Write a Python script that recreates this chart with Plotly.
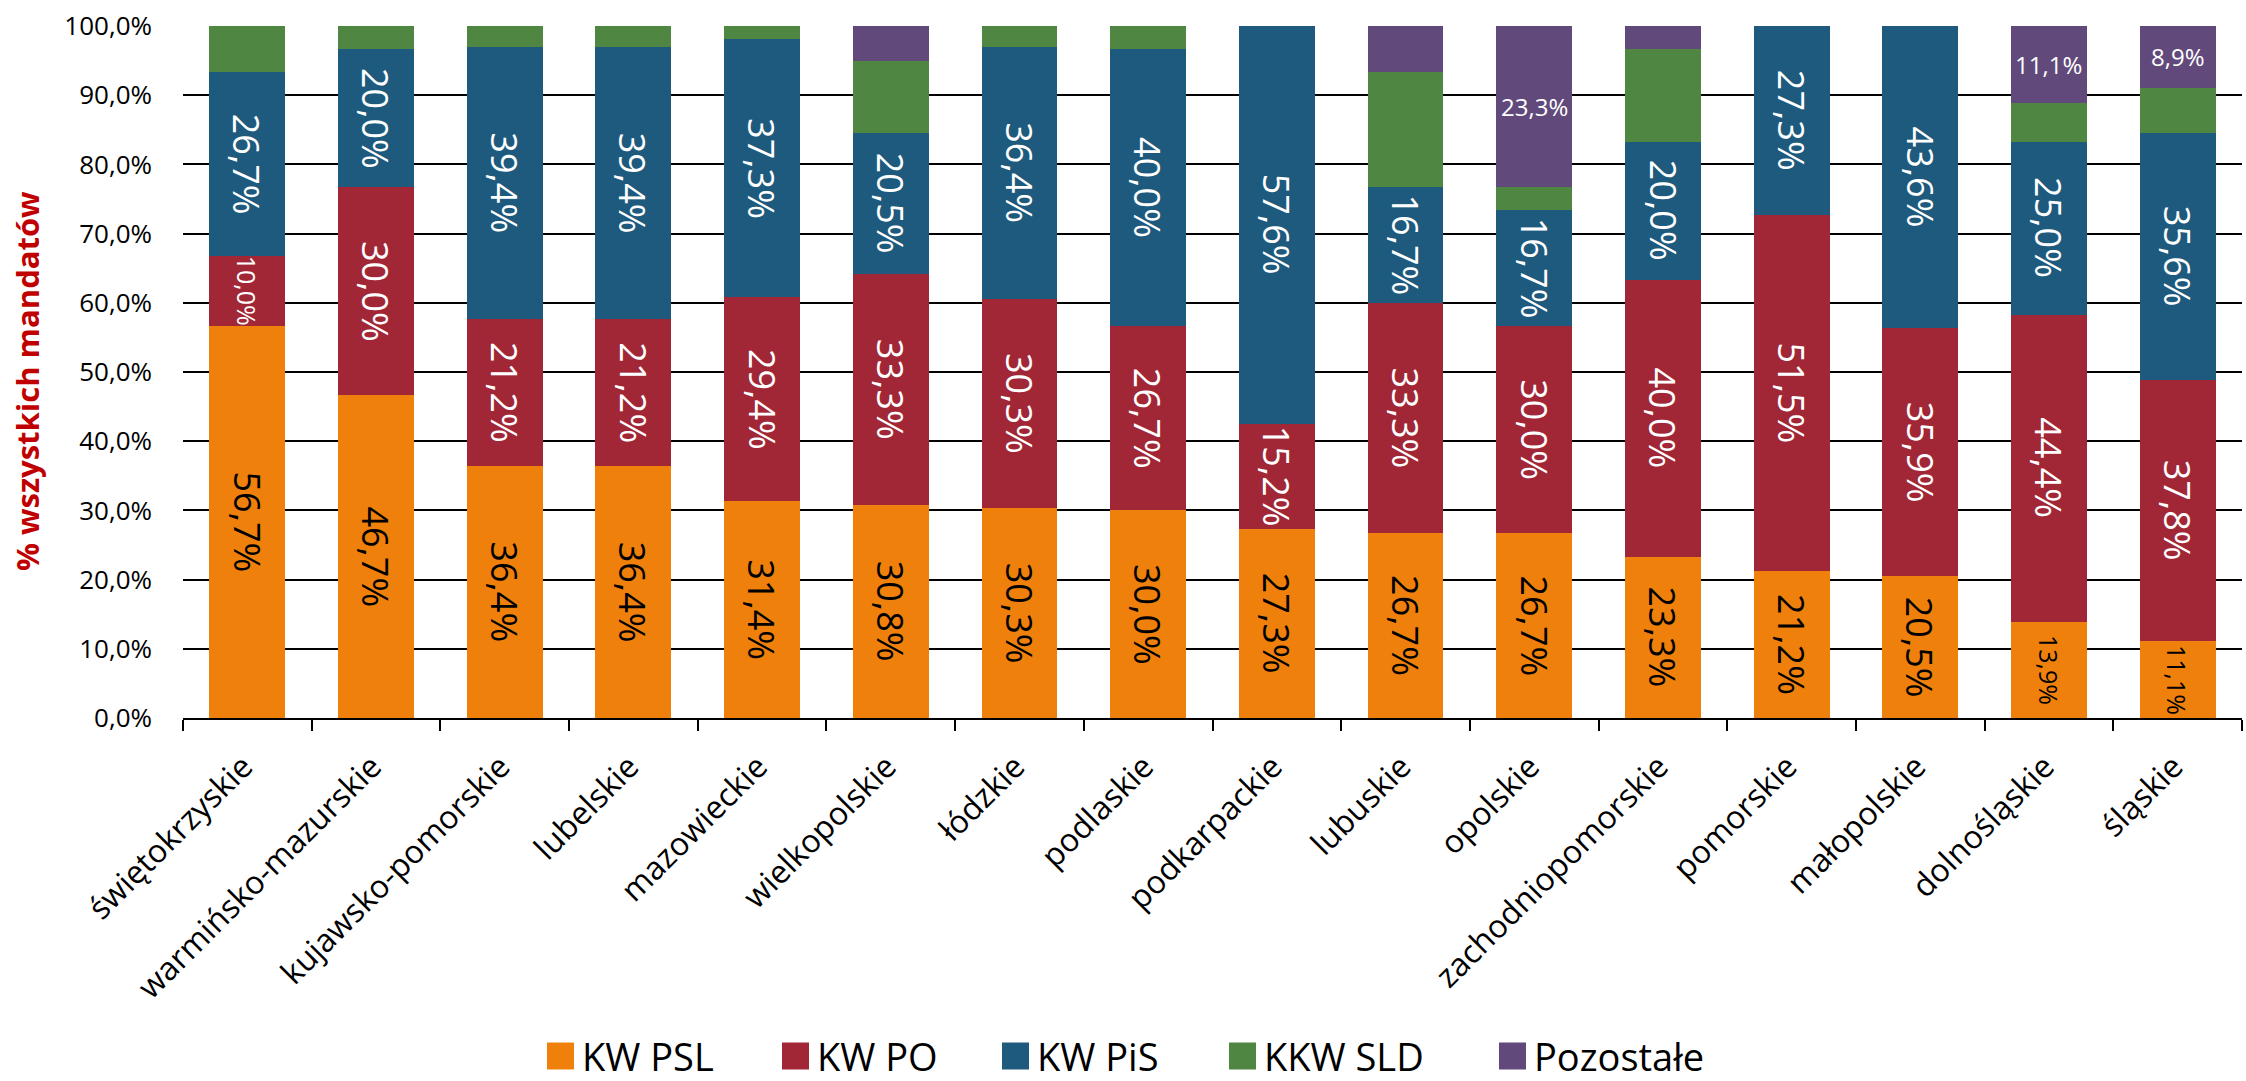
import plotly.graph_objects as go

# ---------------- data ----------------
regions = ["świętokrzyskie", "warmińsko-mazurskie", "kujawsko-pomorskie", "lubelskie",
           "mazowieckie", "wielkopolskie", "łódzkie", "podlaskie", "podkarpackie",
           "lubuskie", "opolskie", "zachodniopomorskie", "pomorskie", "małopolskie",
           "dolnośląskie", "śląskie"]
series_names = ["KW PSL", "KW PO", "KW PiS", "KKW SLD", "Pozostałe"]
kw_psl = [56.7, 46.7, 36.4, 36.4, 31.4, 30.8, 30.3, 30.0, 27.3, 26.7, 26.7, 23.3, 21.2, 20.5, 13.9, 11.1]
kw_po = [10.0, 30.0, 21.2, 21.2, 29.4, 33.3, 30.3, 26.7, 15.2, 33.3, 30.0, 40.0, 51.5, 35.9, 44.4, 37.8]
kw_pis = [26.7, 20.0, 39.4, 39.4, 37.3, 20.5, 36.4, 40.0, 57.6, 16.7, 16.7, 20.0, 27.3, 43.6, 25.0, 35.6]
kkw_sld = [6.6, 3.3, 3.0, 3.0, 1.9, 10.3, 3.0, 3.3, 0.0, 16.7, 3.3, 13.4, 0.0, 0.0, 5.6, 6.6]
pozostale = [0.0, 0.0, 0.0, 0.0, 0.0, 5.1, 0.0, 0.0, 0.0, 6.6, 23.3, 3.3, 0.0, 0.0, 11.1, 8.9]
y_tick_values = [0, 10, 20, 30, 40, 50, 60, 70, 80, 90, 100]
y_tick_labels = ["0,0%", "10,0%", "20,0%", "30,0%", "40,0%", "50,0%",
                 "60,0%", "70,0%", "80,0%", "90,0%", "100,0%"]
y_title = "% wszystkich mandatów"

# which segments carry labels and in which style
labelled_series = ["KW PSL", "KW PO", "KW PiS"]
small_vertical = {("świętokrzyskie", "KW PO"), ("dolnośląskie", "KW PSL"), ("śląskie", "KW PSL")}
horizontal_labels = {("opolskie", "Pozostałe"), ("dolnośląskie", "Pozostałe"), ("śląskie", "Pozostałe")}

# ---------------- style ----------------
colors = ["#EF800C", "#A12737", "#1E5A7D", "#4F8742", "#614A7B"]
label_colors = ["black", "white", "white", "white", "white"]
FONT = "Open Sans"

W, H = 2246, 1081
L, R, T, B = 183, 4, 26, 363
plot_w = W - L - R
plot_h = H - T - B

values = [kw_psl, kw_po, kw_pis, kkw_sld, pozostale]

fig = go.Figure()
for name, vals, col in zip(series_names, values, colors):
    fig.add_trace(go.Bar(name=name, x=regions, y=vals, marker=dict(color=col, line=dict(width=0)),
                         showlegend=False))

annotations = []
cum = [0.0] * len(regions)
for si, (name, vals) in enumerate(zip(series_names, values)):
    for ri, reg in enumerate(regions):
        v = vals[ri]
        mid = cum[ri] + v / 2.0
        txt = f"{v:.1f}".replace(".", ",") + "%"
        key = (reg, name)
        if key in horizontal_labels:
            annotations.append(dict(x=reg, y=mid, xref="x", yref="y", text=txt, showarrow=False,
                                    font=dict(family=FONT, size=24, color=label_colors[si])))
        elif name in labelled_series and v > 0:
            size = 25 if key in small_vertical else 36
            annotations.append(dict(x=reg, y=mid, xref="x", yref="y", text=txt, showarrow=False,
                                    textangle=90,
                                    font=dict(family=FONT, size=size, color=label_colors[si])))
        cum[ri] += v

# y axis title
annotations.append(dict(x=(27 - L) / plot_w, y=(H - B - 381) / plot_h, xref="paper", yref="paper",
                        text="<b>" + y_title + "</b>", xanchor="center", yanchor="middle",
                        showarrow=False, textangle=-90,
                        font=dict(family=FONT, size=31, color="#C00000")))

# custom legend (squares + text) below the chart
legend_px = [547, 782, 1002, 1229, 1499]
legend_y_px = 1056
shapes = []
sq = 27
for name, col, xp in zip(series_names, colors, legend_px):
    x0 = (xp - L) / plot_w
    x1 = (xp + sq - L) / plot_w
    yc = (H - B - legend_y_px) / plot_h
    y0 = yc - (sq / 2) / plot_h
    y1 = yc + (sq / 2) / plot_h
    shapes.append(dict(type="rect", xref="paper", yref="paper", x0=x0, x1=x1, y0=y0, y1=y1,
                       fillcolor=col, line=dict(width=0)))
    annotations.append(dict(x=(xp + sq + 7 - L) / plot_w, y=yc, xref="paper", yref="paper",
                            text=name, showarrow=False, xanchor="left", yanchor="middle",
                            borderpad=0,
                            font=dict(family=FONT, size=38, color="black")))

fig.update_layout(
    width=W, height=H,
    margin=dict(l=L, r=R, t=T, b=B, autoexpand=False),
    barmode="stack",
    bargap=0.41,
    plot_bgcolor="white",
    paper_bgcolor="white",
    font=dict(family=FONT, color="black"),
    annotations=annotations,
    shapes=shapes,
    showlegend=False,
)
fig.update_xaxes(
    showline=True, linecolor="black", linewidth=2,
    ticks="outside", tickson="boundaries", ticklen=11, tickwidth=2, tickcolor="black",
    tickangle=-45, tickfont=dict(family=FONT, size=32, color="black"),
    ticklabelstandoff=15, ticklabelshift=-4,
    showgrid=False,
)
fig.update_yaxes(
    range=[0, 100], tickvals=y_tick_values, ticktext=y_tick_labels,
    tickfont=dict(family=FONT, size=26, color="black"),
    showgrid=True, gridcolor="black", gridwidth=1.5,
    showline=False, zeroline=False, ticks="", ticklabelstandoff=30,
)

fig.write_html("out.html", config={"displayModeBar": False},
               post_script="document.body.style.margin='0';")
